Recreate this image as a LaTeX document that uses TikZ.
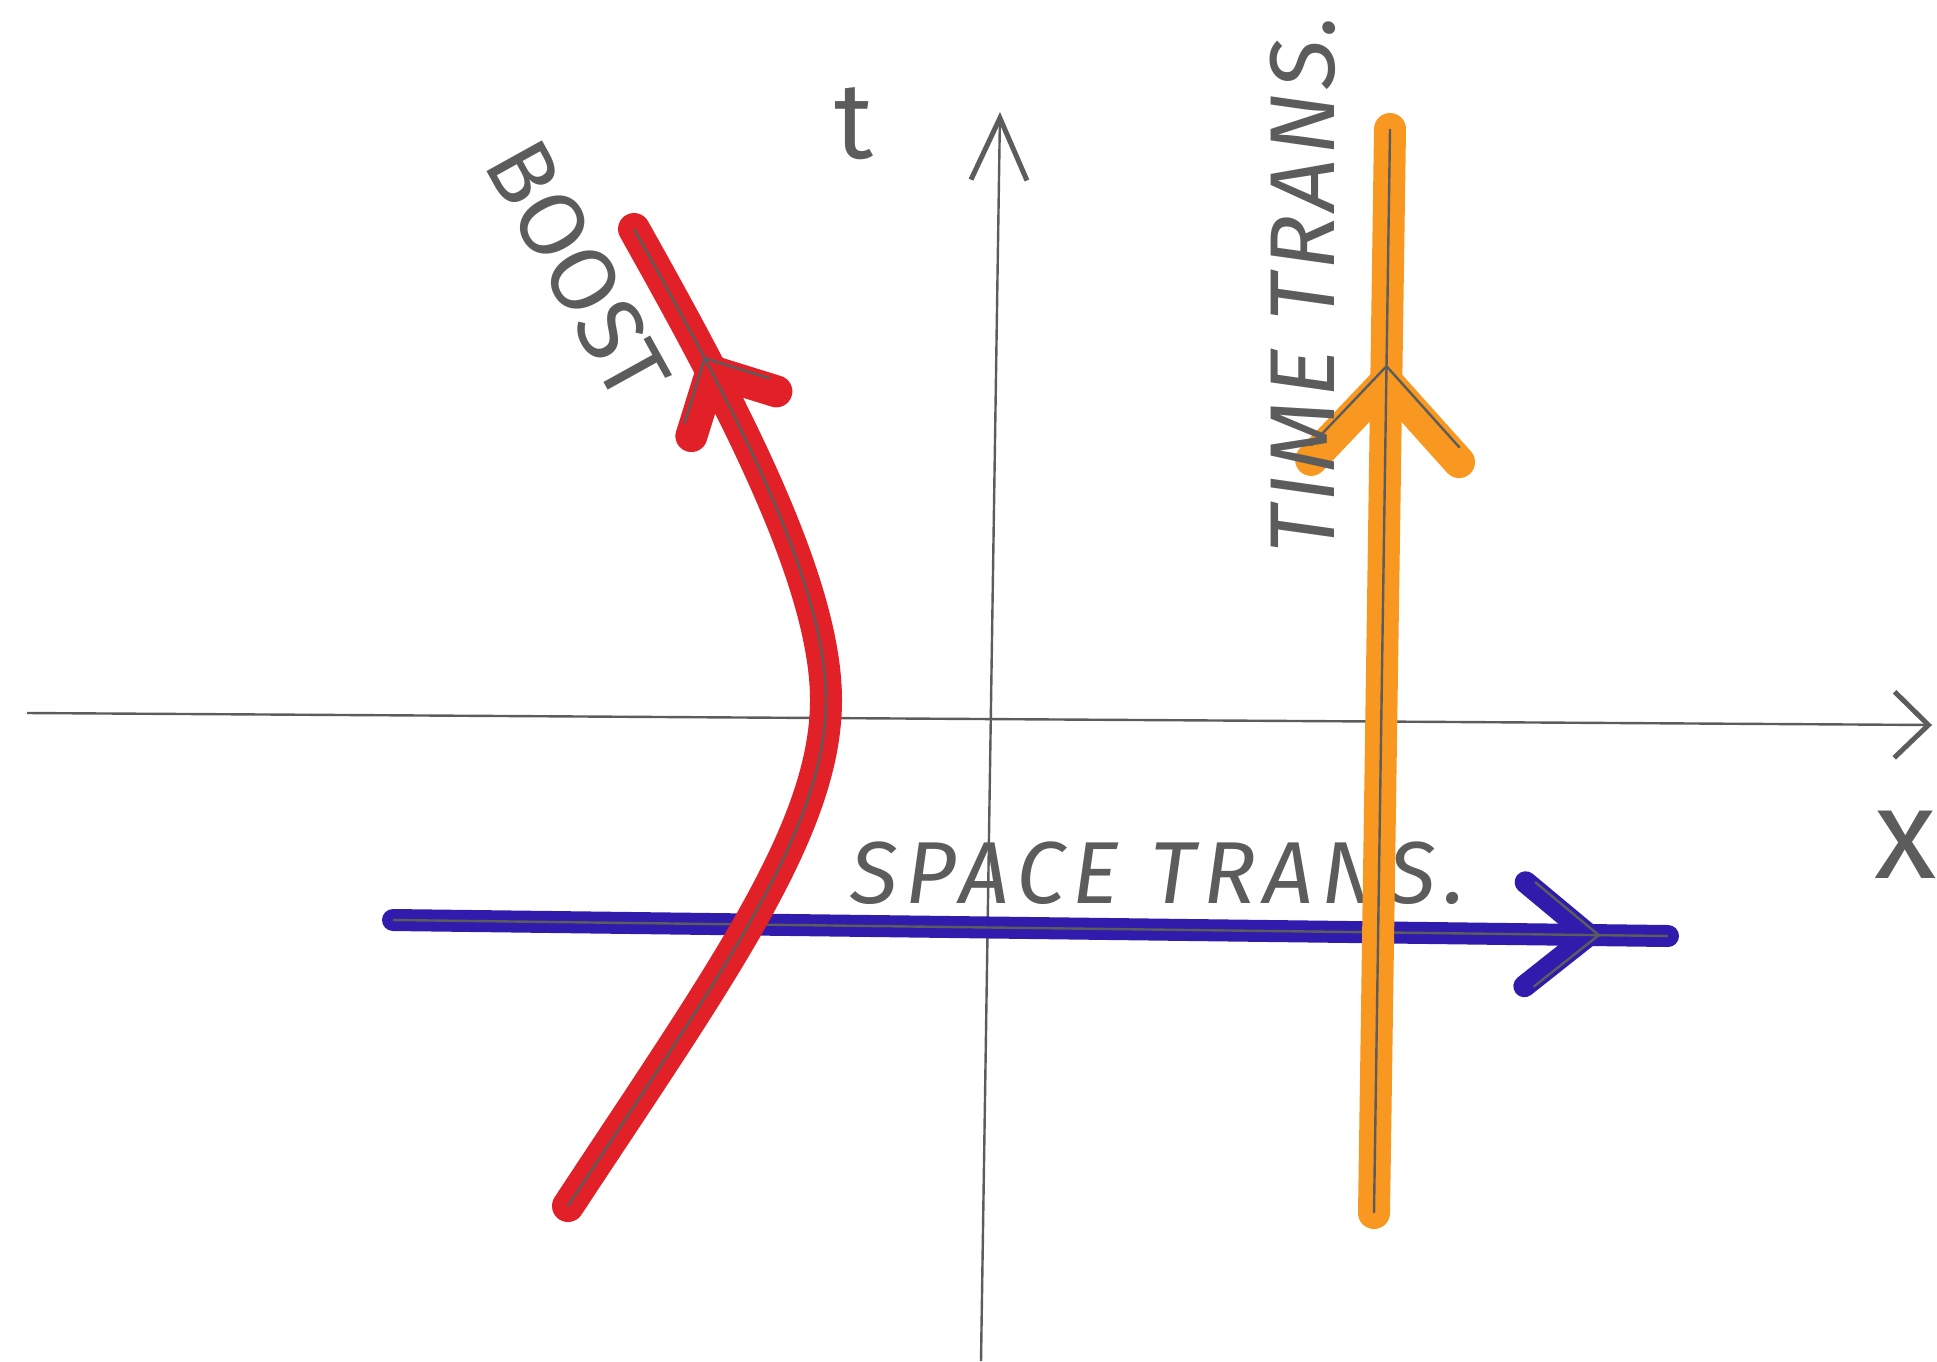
\documentclass[tikz,border=0pt]{standalone}
\usepackage{fontspec}
\setsansfont{Fira Sans}
\newfontfamily\handwide[LetterSpace=9]{Fira Sans}
\newfontfamily\handtall[LetterSpace=4]{Fira Sans}
\usetikzlibrary{arrows.meta, decorations.markings}

\definecolor{pencil}{RGB}{92,92,92}
\definecolor{boostred}{RGB}{226,32,40}
\definecolor{timeorange}{RGB}{248,152,32}
\definecolor{spaceblue}{RGB}{48,28,172}

\tikzset{
  axisline/.style = {draw=pencil, line width=1.2pt,
    -{Straight Barb[length=31pt, width=28pt, line width=2.5pt]}},
  pen/.style = {line width=#1, line cap=round, line join=round},
  pencilline/.style = {draw=pencil, line width=1.2pt},
  tipat/.style 2 args = {postaction={decorate},
    decoration={markings, mark=at position #1 with {\arrow{#2}}}},
  redtip/.tip = {Straight Barb[length=24pt, width=48pt, round]},
  orangetip/.tip = {Straight Barb[length=40pt, width=74pt, round]},
  bluetip/.tip = {Straight Barb[length=32pt, width=52pt, round]},
  hand/.style = {text=pencil, inner sep=0pt,
    font=\sffamily\fontsize{46}{50}\selectfont}
}

\begin{document}
\begin{tikzpicture}[x=0.5pt, y=-0.5pt]
  \useasboundingbox (0,0) rectangle (1937,1361);

  % axes
  \coordinate (tbot) at (981,1361);
  \coordinate (ttop) at (1000,112);
  \coordinate (xleft) at (27,713);
  \coordinate (xright) at (1932,725);
  \draw[axisline] (tbot) -- (ttop);
  \draw[axisline, -{Straight Barb[length=17pt, width=33pt, line width=2.5pt]}] (xleft) -- (xright);
  \node[hand, font=\sffamily\fontsize{54}{58}\selectfont] (tlab) at (854,124) {t};
  \node[hand, font=\sffamily\fontsize{64}{68}\selectfont] (xlab) at (1906,845) {x};

  % space translation
  \coordinate (s1) at (393,920);
  \coordinate (s2) at (1668,936);
  \draw[pen=11pt, spaceblue, tipat={-34pt}{bluetip}] (s1) -- (s2);
  \draw[pencilline, tipat={-34pt}{bluetip}] (s1) -- (s2);
  \node[hand, font=\handwide\itshape\fontsize{44}{48}\selectfont] (spacelab) at (1158,873) {SPACE TRANS.};

  % boost
  \coordinate (rbot) at (568,1206);
  \coordinate (rmid) at (826,700);
  \coordinate (rtop) at (634,229);
  \draw[pen=16pt, boostred, tipat={-73pt}{redtip}]
    (rbot) .. controls (720,975) and (826,830) .. (rmid)
           .. controls (826,580) and (730,400) .. (rtop);
  \draw[pencilline, tipat={-73pt}{redtip}]
    (rbot) .. controls (720,975) and (826,830) .. (rmid)
           .. controls (826,580) and (730,400) .. (rtop);
  \node[hand, rotate=-61] (boostlab) at (578,270) {BOOST};

  % time translation
  \coordinate (o1) at (1374,1213);
  \coordinate (o2) at (1390,129);
  \draw[pen=16pt, timeorange, tipat={-118pt}{orangetip}] (o1) -- (o2);
  \draw[pencilline, tipat={-118pt}{orangetip}] (o1) -- (o2);
  \node[hand, rotate=90, font=\handtall\itshape\fontsize{46}{50}\selectfont] (timelab) at (1303,284) {TIME TRANS.};
\end{tikzpicture}
\end{document}
